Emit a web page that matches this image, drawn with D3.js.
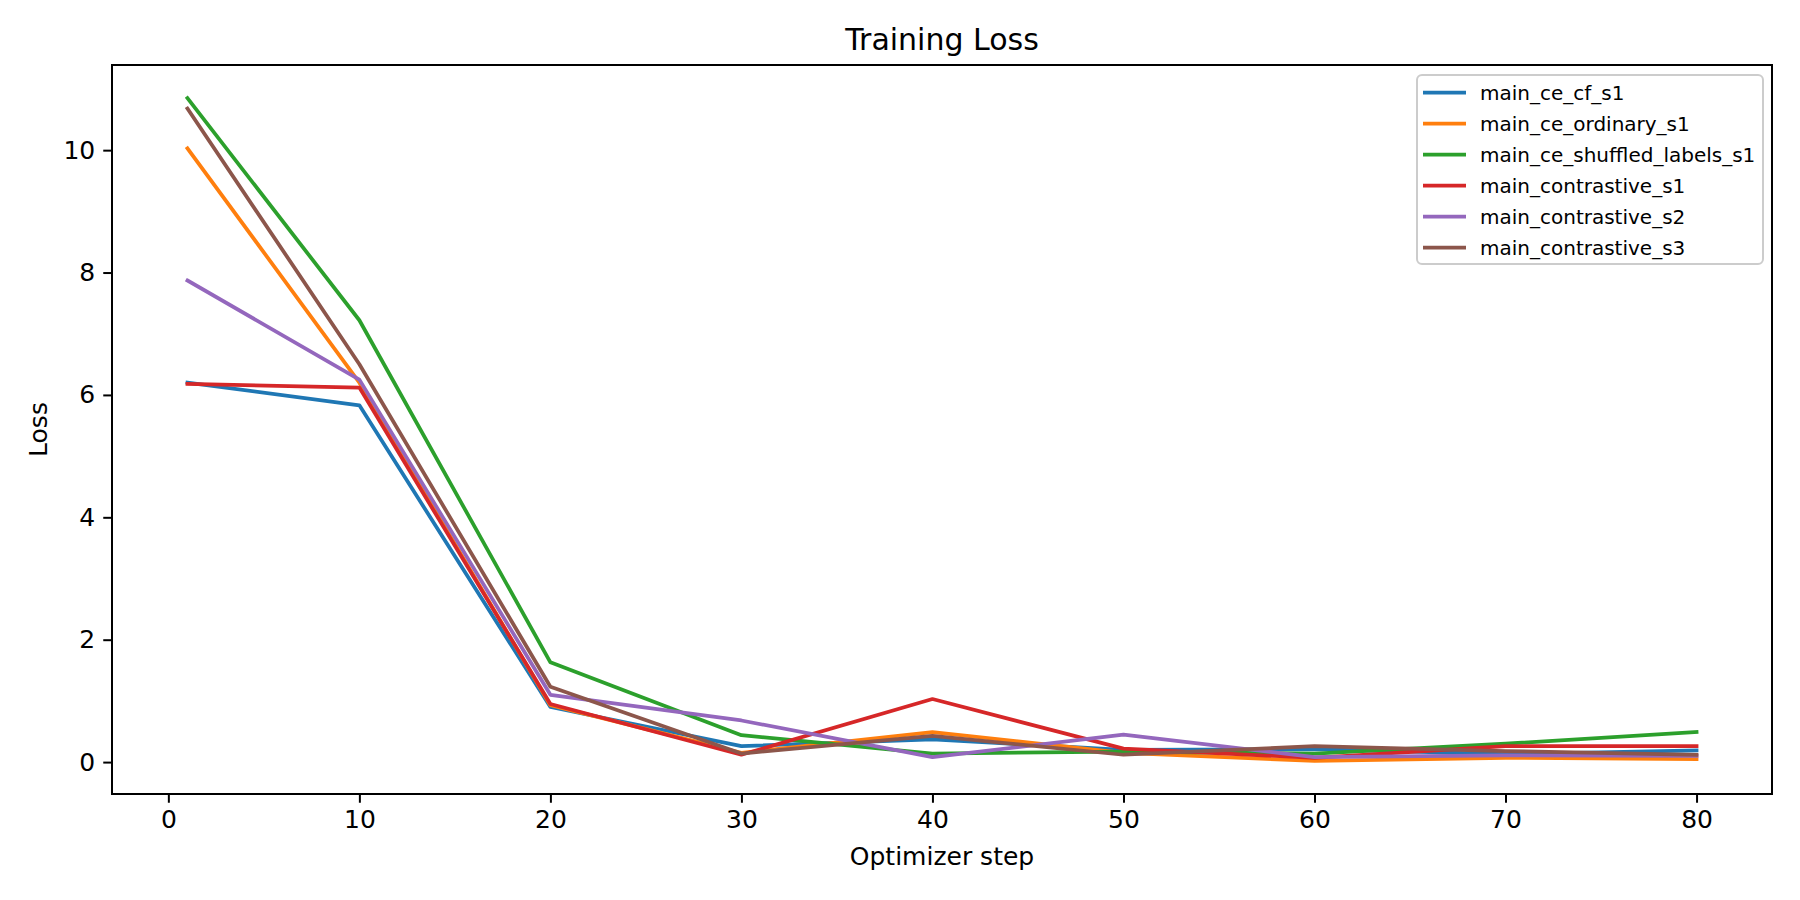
<!DOCTYPE html>
<html>
<head>
<meta charset="utf-8">
<script src="https://cdn.jsdelivr.net/npm/d3@7"></script>
<style>
  body { margin: 0; background: #fff; }
  svg text { font-family: "DejaVu Sans", sans-serif; fill: #000; }
</style>
</head>
<body>
<svg id="chart" width="1800" height="900"></svg>
<script>
// Optimizer steps where the loss was logged
const steps = [1, 10, 20, 30, 40, 50, 60, 70, 80];

// Loss per run
const runNames = [
    "main_ce_cf_s1",
    "main_ce_ordinary_s1",
    "main_ce_shuffled_labels_s1",
    "main_contrastive_s1",
    "main_contrastive_s2",
    "main_contrastive_s3"
];
const lossCeCf = [6.20, 5.83, 0.90, 0.26, 0.37, 0.20, 0.21, 0.13, 0.19];
const lossCeOrdinary = [10.03, 6.20, 0.93, 0.15, 0.49, 0.15, 0.02, 0.07, 0.05];
const lossCeShuffled = [10.85, 7.22, 1.63, 0.44, 0.14, 0.17, 0.14, 0.30, 0.49];
const lossContrastiveS1 = [6.18, 6.12, 0.95, 0.12, 1.03, 0.22, 0.07, 0.26, 0.26];
const lossContrastiveS2 = [7.87, 6.25, 1.10, 0.68, 0.08, 0.45, 0.08, 0.11, 0.10];
const lossContrastiveS3 = [10.68, 6.50, 1.23, 0.14, 0.43, 0.12, 0.26, 0.18, 0.12];

const xTicks = [0, 10, 20, 30, 40, 50, 60, 70, 80];
const yTicks = [0, 2, 4, 6, 8, 10];

const colors = ["#1f77b4", "#ff7f0e", "#2ca02c", "#d62728", "#9467bd", "#8c564b"];

const series = [lossCeCf, lossCeOrdinary, lossCeShuffled, lossContrastiveS1, lossContrastiveS2, lossContrastiveS3]
    .map((values, i) => ({ name: runNames[i], values: values.map((v, j) => [steps[j], v]) }));

// Axes box, in page pixels (figure is 10x5 in at 180 dpi)
const plotLeft = 112, plotRight = 1772, plotTop = 65, plotBottom = 794;
const tickFont = 25, lineW = 3.75, frameW = 2, tickLen = 8.75;

// Pad the data range by 5% on each side, like matplotlib does.
function padded([lo, hi]) {
    const m = (hi - lo) * 0.05;
    return [lo - m, hi + m];
}

const x = d3.scaleLinear()
    .domain(padded(d3.extent(steps)))
    .range([plotLeft, plotRight]);

const y = d3.scaleLinear()
    .domain(padded(d3.extent(series.flatMap(s => s.values.map(d => d[1])))))
    .range([plotBottom, plotTop]);

const svg = d3.select("#chart");

// Lines
const line = d3.line().x(d => x(d[0])).y(d => y(d[1]));
svg.append("g")
    .selectAll("path")
    .data(series)
    .join("path")
      .attr("fill", "none")
      .attr("stroke", (d, i) => colors[i])
      .attr("stroke-width", lineW)
      .attr("stroke-linejoin", "round")
      .attr("stroke-linecap", "square")
      .attr("d", d => line(d.values));

// Bottom axis
svg.append("g")
    .attr("transform", `translate(0,${plotBottom})`)
    .call(d3.axisBottom(x).tickValues(xTicks).tickSize(tickLen).tickPadding(7))
    .call(g => g.select(".domain").remove())
    .call(g => g.selectAll("line").attr("stroke", "#000").attr("stroke-width", frameW))
    .call(g => g.selectAll("text").attr("font-size", tickFont).attr("font-family", "DejaVu Sans"));

// Left axis
svg.append("g")
    .attr("transform", `translate(${plotLeft},0)`)
    .call(d3.axisLeft(y).tickValues(yTicks).tickSize(tickLen).tickPadding(8))
    .call(g => g.select(".domain").remove())
    .call(g => g.selectAll("line").attr("stroke", "#000").attr("stroke-width", frameW))
    .call(g => g.selectAll("text").attr("font-size", tickFont).attr("font-family", "DejaVu Sans"));

// Frame
svg.append("rect")
    .attr("x", plotLeft).attr("y", plotTop)
    .attr("width", plotRight - plotLeft).attr("height", plotBottom - plotTop)
    .attr("fill", "none")
    .attr("stroke", "#000")
    .attr("stroke-width", frameW);

// Title and axis labels
svg.append("text")
    .attr("x", (plotLeft + plotRight) / 2).attr("y", 50)
    .attr("text-anchor", "middle")
    .attr("font-size", 30)
    .text("Training Loss");

svg.append("text")
    .attr("x", (plotLeft + plotRight) / 2).attr("y", 865)
    .attr("text-anchor", "middle")
    .attr("font-size", tickFont)
    .text("Optimizer step");

svg.append("text")
    .attr("transform", `translate(47,${(plotTop + plotBottom) / 2}) rotate(-90)`)
    .attr("text-anchor", "middle")
    .attr("font-size", tickFont)
    .text("Loss");

// Legend, upper right
const legendX = 1417, legendY = 75, rowH = 31, legendW = 346, legendH = 189;
const legend = svg.append("g");
legend.append("rect")
    .attr("x", legendX).attr("y", legendY)
    .attr("width", legendW).attr("height", legendH)
    .attr("rx", 5)
    .attr("fill", "#fff").attr("fill-opacity", 0.8)
    .attr("stroke", "#ccc").attr("stroke-width", frameW);

const rows = legend.selectAll("g.row")
    .data(series)
    .join("g")
      .attr("class", "row")
      .attr("transform", (d, i) => `translate(${legendX},${legendY + 17.5 + i * rowH})`);

rows.append("line")
    .attr("x1", 6).attr("x2", 49)
    .attr("stroke", (d, i) => colors[i])
    .attr("stroke-width", lineW);

rows.append("text")
    .attr("x", 63).attr("dy", "0.35em")
    .attr("font-size", 20)
    .text(d => d.name);
</script>
</body>
</html>
